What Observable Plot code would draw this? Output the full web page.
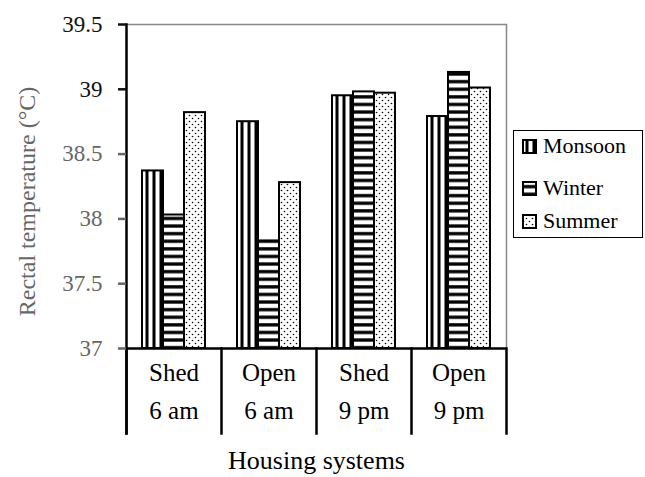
<!DOCTYPE html>
<html>
<head>
<meta charset="utf-8">
<script src="https://cdn.jsdelivr.net/npm/d3@7"></script>
<script src="https://cdn.jsdelivr.net/npm/@observablehq/plot@0.6"></script>
<style>
  html, body { margin: 0; padding: 0; background: #fff; }
  #wrap { position: relative; width: 645px; height: 477px; font-family: "Liberation Serif", "Times New Roman", serif; }
  #legend { position: absolute; left: 513px; top: 130px; width: 130px; height: 108px; box-sizing: border-box;
            border: 1.5px solid #000; background: #fff; font-size: 22px; }
  #legend .item { position: absolute; left: 8px; display: flex; align-items: center; height: 20px; }
  #legend .item svg { margin-right: 6px; }
</style>
</head>
<body>
<svg width="0" height="0" style="position:absolute">
  <defs>
    <pattern id="pMonsoon" patternUnits="userSpaceOnUse" width="7" height="7">
      <rect width="7" height="7" fill="#fff"/>
      <rect x="3.5" width="3" height="7" fill="#000"/>
    </pattern>
    <pattern id="pWinter" patternUnits="userSpaceOnUse" width="8" height="7.6">
      <rect width="8" height="7.6" fill="#fff"/>
      <rect y="4" width="8" height="3.3" fill="#000"/>
    </pattern>
    <pattern id="pSummer" patternUnits="userSpaceOnUse" width="6" height="6">
      <rect width="6" height="6" fill="#fff"/>
      <circle cx="1.5" cy="1.5" r="0.8" fill="#000"/>
      <circle cx="4.5" cy="4.5" r="0.8" fill="#000"/>
    </pattern>
  </defs>
</svg>
<div id="wrap"></div>
<script>
// ---- data ----
const housing = ["Shed", "Open", "Shed", "Open"];
const times = ["6 am", "6 am", "9 pm", "9 pm"];
const seasons = ["Monsoon", "Winter", "Summer"];
const monsoon = [38.37, 38.75, 38.95, 38.79];
const winter  = [38.03, 37.83, 38.98, 39.13];
const summer  = [38.82, 38.28, 38.97, 39.01];
const xTitle = "Housing systems";
const yTitle = "Rectal temperature (°C)";

const groups = housing.map((h, i) => `${h}\n${times[i]}`);
const seriesValues = {Monsoon: monsoon, Winter: winter, Summer: summer};
const patternOf = {Monsoon: "url(#pMonsoon)", Winter: "url(#pWinter)", Summer: "url(#pSummer)"};

const data = [];
groups.forEach((g, i) => seasons.forEach(s => data.push({group: g, season: s, value: seriesValues[s][i]})));

const plotH = 477 - 24 - 129;
const serif = "Liberation Serif, Times New Roman, serif";

const chart = Plot.plot({
  width: 645,
  height: 477,
  marginLeft: 124,
  marginRight: 138,
  marginTop: 24,
  marginBottom: 129,
  style: {fontFamily: serif, fontSize: "22px", color: "#000", background: "#fff"},
  fx: {domain: groups, padding: 0, label: null},
  x: {domain: seasons, paddingInner: 0, paddingOuter: 0.7, axis: null},
  y: {domain: [37, 39.5]},
  marks: [
    Plot.barY(data, {fx: "group", x: "season", y1: 37, y2: "value",
      fill: d => patternOf[d.season], stroke: "#000", strokeWidth: 2}),
    Plot.ruleY([39.5], {stroke: "#888", strokeWidth: 1.5}),
    Plot.frame({anchor: "right", facetAnchor: "right", stroke: "#888", strokeWidth: 1.5}),
    Plot.ruleY([37], {stroke: "#000", strokeWidth: 2.5}),
    Plot.frame({anchor: "left", facetAnchor: "left", stroke: "#000", strokeWidth: 2.5, insetBottom: -85}),
    Plot.frame({anchor: "left", stroke: "#000", strokeWidth: 2.5, insetTop: plotH, insetBottom: -85}),
    Plot.frame({anchor: "right", facetAnchor: "right", stroke: "#000", strokeWidth: 2.5, insetTop: plotH, insetBottom: -85}),
    Plot.axisY({ticks: [39, 39.5], tickFormat: d => String(d), tickSize: 8, tickPadding: 16, strokeWidth: 2.5,
      label: null, fontSize: 23, fontFamily: serif, color: "#111"}),
    Plot.axisY({ticks: [37, 37.5, 38, 38.5], tickFormat: d => String(d), tickSize: 8, tickPadding: 16, strokeWidth: 2.5,
      fontSize: 23, fontFamily: serif, color: "#666", label: null}),
    Plot.text([{g: groups[0], t: yTitle}], {fx: "g", text: "t", frameAnchor: "left", rotate: -90,
      textAnchor: "middle", lineAnchor: "middle", dx: -99, dy: 15, fontSize: 24, fontFamily: serif, fill: "#666"}),
    Plot.axisFx({anchor: "bottom", tickSize: 0, tickPadding: 6, lineHeight: 1.5, fontSize: 25, fontFamily: serif, label: null}),
    Plot.text([{g: groups[1], t: xTitle}], {fx: "g", text: "t", frameAnchor: "bottom-right", textAnchor: "middle",
      lineAnchor: "middle", dy: 112, fontSize: 26, fontFamily: serif})
  ]
});

const wrap = document.getElementById("wrap");
wrap.appendChild(chart);

// legend (HTML overlay to the right of the plot)
const legend = document.createElement("div");
legend.id = "legend";
const tops = [5, 47, 80];
seasons.forEach((s, i) => {
  const it = document.createElement("div");
  it.className = "item";
  it.style.top = tops[i] + "px";
  it.innerHTML = `<svg width="15" height="15"><rect x="1" y="1" width="13" height="13" fill="${patternOf[s]}" stroke="#000" stroke-width="2"/></svg><span>${s}</span>`;
  legend.appendChild(it);
});
wrap.appendChild(legend);
</script>
</body>
</html>
